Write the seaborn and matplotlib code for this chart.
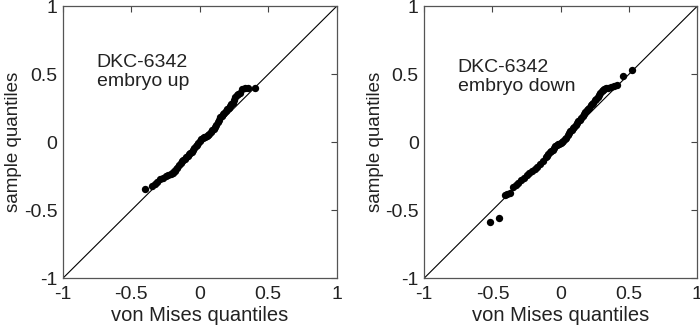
import pandas as pd
import matplotlib
matplotlib.use('Agg')
import matplotlib.pyplot as plt
import seaborn as sns

# von Mises QQ data
up_theory = [-0.40, -0.35, -0.33, -0.31, -0.29, -0.27, -0.25, -0.23, -0.21, -0.195,
             -0.18, -0.165, -0.15, -0.14, -0.13, -0.12, -0.11, -0.10, -0.09, -0.08,
             -0.07, -0.06, -0.05, -0.04, -0.03, -0.02, -0.01, 0.00, 0.01, 0.02,
             0.03, 0.04, 0.05, 0.06, 0.07, 0.08, 0.09, 0.10, 0.11, 0.12,
             0.13, 0.14, 0.15, 0.16, 0.17, 0.18, 0.19, 0.20, 0.21, 0.22,
             0.23, 0.24, 0.25, 0.26, 0.27, 0.28, 0.29, 0.31, 0.33, 0.35, 0.40]
up_sample = [-0.345, -0.32, -0.31, -0.29, -0.27, -0.26, -0.25, -0.245, -0.235, -0.225,
             -0.21, -0.19, -0.17, -0.155, -0.14, -0.13, -0.12, -0.11, -0.10, -0.09,
             -0.08, -0.07, -0.06, -0.045, -0.03, -0.02, -0.005, 0.01, 0.02, 0.03,
             0.035, 0.04, 0.045, 0.05, 0.06, 0.075, 0.09, 0.10, 0.11, 0.125,
             0.145, 0.165, 0.185, 0.195, 0.205, 0.215, 0.23, 0.245, 0.255, 0.265,
             0.28, 0.29, 0.31, 0.33, 0.345, 0.355, 0.365, 0.39, 0.395, 0.395, 0.40]

down_theory = [-0.515, -0.45, -0.41, -0.39, -0.37, -0.35, -0.33, -0.31, -0.29, -0.27,
               -0.25, -0.23, -0.21, -0.19, -0.17, -0.15, -0.13, -0.11, -0.10, -0.09,
               -0.08, -0.07, -0.06, -0.05, -0.04, -0.03, -0.02, -0.01, 0.00, 0.01,
               0.02, 0.03, 0.04, 0.05, 0.06, 0.07, 0.08, 0.09, 0.10, 0.11,
               0.12, 0.13, 0.14, 0.15, 0.16, 0.17, 0.18, 0.19, 0.20, 0.21,
               0.22, 0.23, 0.24, 0.25, 0.26, 0.27, 0.28, 0.29, 0.30, 0.31,
               0.32, 0.33, 0.35, 0.37, 0.39, 0.41, 0.46, 0.52]
down_sample = [-0.585, -0.56, -0.385, -0.38, -0.375, -0.33, -0.315, -0.30, -0.28, -0.26,
               -0.245, -0.225, -0.21, -0.195, -0.18, -0.16, -0.135, -0.11, -0.10, -0.085,
               -0.075, -0.065, -0.055, -0.04, -0.03, -0.022, -0.015, -0.01, -0.005, 0.0,
               0.01, 0.02, 0.03, 0.05, 0.065, 0.08, 0.09, 0.105, 0.115, 0.125,
               0.14, 0.155, 0.165, 0.18, 0.19, 0.205, 0.22, 0.235, 0.245, 0.255,
               0.27, 0.28, 0.29, 0.31, 0.32, 0.33, 0.345, 0.36, 0.375, 0.385,
               0.39, 0.395, 0.40, 0.405, 0.41, 0.42, 0.49, 0.53]

ref_line = [-1, 1]
ticks = [-1, -0.5, 0, 0.5, 1]
tick_labels = ['-1', '-0.5', '0', '0.5', '1']

sns.set_style('white')
plt.rcParams['font.family'] = ['Liberation Sans', 'DejaVu Sans']

fig = plt.figure(figsize=(7, 3.28), dpi=100)
ax1 = fig.add_axes([0.09, 0.152, 0.391, 0.829])
ax2 = fig.add_axes([0.606, 0.152, 0.39, 0.829])

panels = [
    (ax1, up_theory, up_sample, 'DKC-6342\nembryo up', 0.645),
    (ax2, down_theory, down_sample, 'DKC-6342\nembryo down', 0.61),
]

for ax, xs, ys, label, ty in panels:
    df = pd.DataFrame({'theory': xs, 'sample': ys})
    sns.lineplot(x=ref_line, y=ref_line, ax=ax, color='black', linewidth=0.8)
    sns.scatterplot(data=df, x='theory', y='sample', ax=ax, color='black',
                    s=28, edgecolor='black', linewidth=0)
    ax.set_xlim(-1, 1)
    ax.set_ylim(-1, 1)
    ax.set_xticks(ticks)
    ax.set_xticklabels(tick_labels)
    ax.set_yticks(ticks)
    ax.set_yticklabels(tick_labels)
    ax.tick_params(direction='in', length=4, width=0.8, top=True, right=True,
                   labelsize=14, colors='#444444', labelcolor='#222222')
    ax.tick_params(axis='x', pad=6)
    ax.tick_params(axis='y', pad=4)
    for sp in ax.spines.values():
        sp.set_visible(True)
        sp.set_color('#555555')
        sp.set_linewidth(0.9)
    ax.set_xlabel('von Mises quantiles', fontsize=14.5, color='#222222', labelpad=2)
    ax.set_ylabel('sample quantiles', fontsize=13.5, color='#222222', labelpad=1)
    ax.text(-0.755, ty, label, fontsize=14, color='#222222', va='top', linespacing=1.15)

fig.savefig('out.png', dpi=100)
